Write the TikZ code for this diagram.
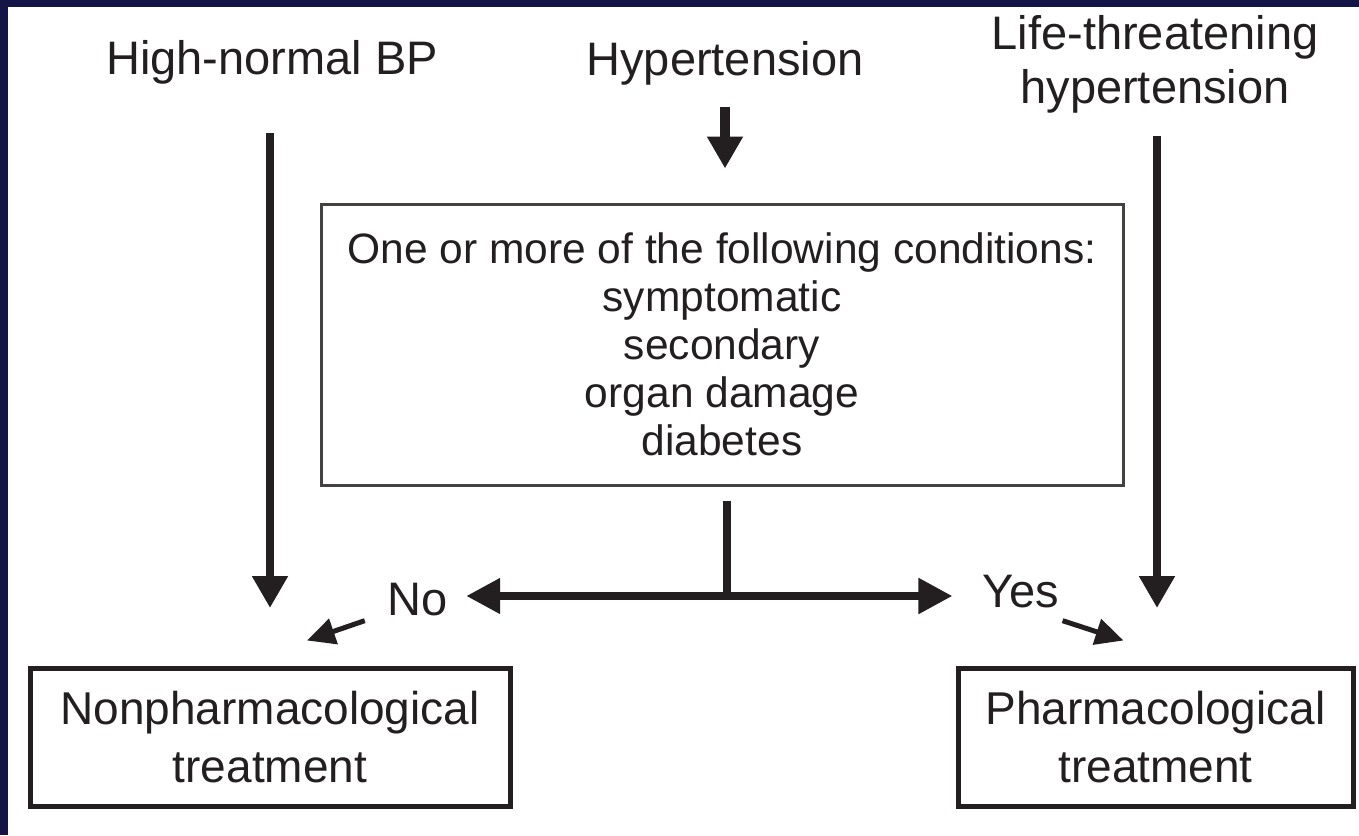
\documentclass[tikz,border=0pt]{standalone}
\usepackage{fontspec}
\setmainfont{Liberation Sans}
\usetikzlibrary{arrows.meta,calc}
\definecolor{ink}{HTML}{231F20}
\definecolor{navy}{HTML}{141446}
\begin{document}
\begin{tikzpicture}[x=1pt,y=-1pt,
  lbl/.style={font=\fontsize{47}{54}\selectfont, text=ink, inner sep=0pt, align=center},
  boxtxt/.style={draw=ink, line width=5pt, inner sep=0pt, align=center,
     font=\fontsize{46}{58}\selectfont, text=ink},
  condbox/.style={draw=ink!85, line width=3pt, inner sep=0pt, align=center,
     font=\fontsize{42.5}{48}\selectfont, text=ink},
  bigarrow/.style={draw=ink, line width=8pt, -{Triangle[width=34pt,length=32pt]}},
  dblarrow/.style={draw=ink, line width=8pt, {Triangle[width=34pt,length=34pt]}-{Triangle[width=34pt,length=34pt]}},
  smallarrow/.style={draw=ink, line width=5pt, -{Triangle[width=26pt,length=28pt]}},
  plainline/.style={draw=ink, line width=8pt}]
\useasboundingbox (0,0) rectangle (1359,835);
\fill[white] (0,0) rectangle (1359,835);
\fill[navy] (0,0) rectangle (1359,7);
\fill[navy] (0,0) rectangle (8,835);

% top labels
\node[lbl] (hn) at (272,62) {High-normal BP};
\node[lbl] (ht) at (725,63) {Hypertension};
\node[lbl] (lt) at (1155,64) {Life-threatening\\hypertension};

% boxes
\node[condbox, minimum width=802pt, minimum height=281pt] (cond) at (722,344.5)
  {One or more of the following conditions:\\symptomatic\\secondary\\organ damage\\diabetes};
\node[boxtxt, minimum width=480pt, minimum height=138pt] (lb) at (270,737)
  {Nonpharmacological\\treatment};
\node[boxtxt, minimum width=395pt, minimum height=138pt] (rb) at (1155.5,737)
  {Pharmacological\\treatment};

% decision labels
\node[lbl, anchor=base] (no) at (418,615) {No};
\node[lbl, anchor=base] (yes) at (1021,607) {Yes};

% coordinates
\coordinate (hnEnd) at (270,608);
\coordinate (ltEnd) at (1157,608);
\coordinate (junc) at (727,596);

% connectors
\draw[bigarrow, shorten <=49pt] (hn.south -| hnEnd) -- (hnEnd);
\draw[bigarrow, shorten <=23pt] (lt.south -| ltEnd) -- (ltEnd);
\draw[bigarrow, line width=10pt, shorten <=22pt, shorten >=34pt] (ht.south) -- (cond.north -| ht.south);
\draw[plainline, shorten <=14pt] (cond.south -| junc) -- (junc);
\draw[dblarrow, shorten <=18pt, shorten >=30pt] (junc -| no.east) -- (junc -| yes.west);
\draw[smallarrow] ($(no.south west)+(-23,5)$) -- ($(lb.north)+(37,-25)$);
\draw[smallarrow] ($(yes.south east)+(3,13)$) -- ($(rb.north)+(-32,-25)$);
\end{tikzpicture}
\end{document}
